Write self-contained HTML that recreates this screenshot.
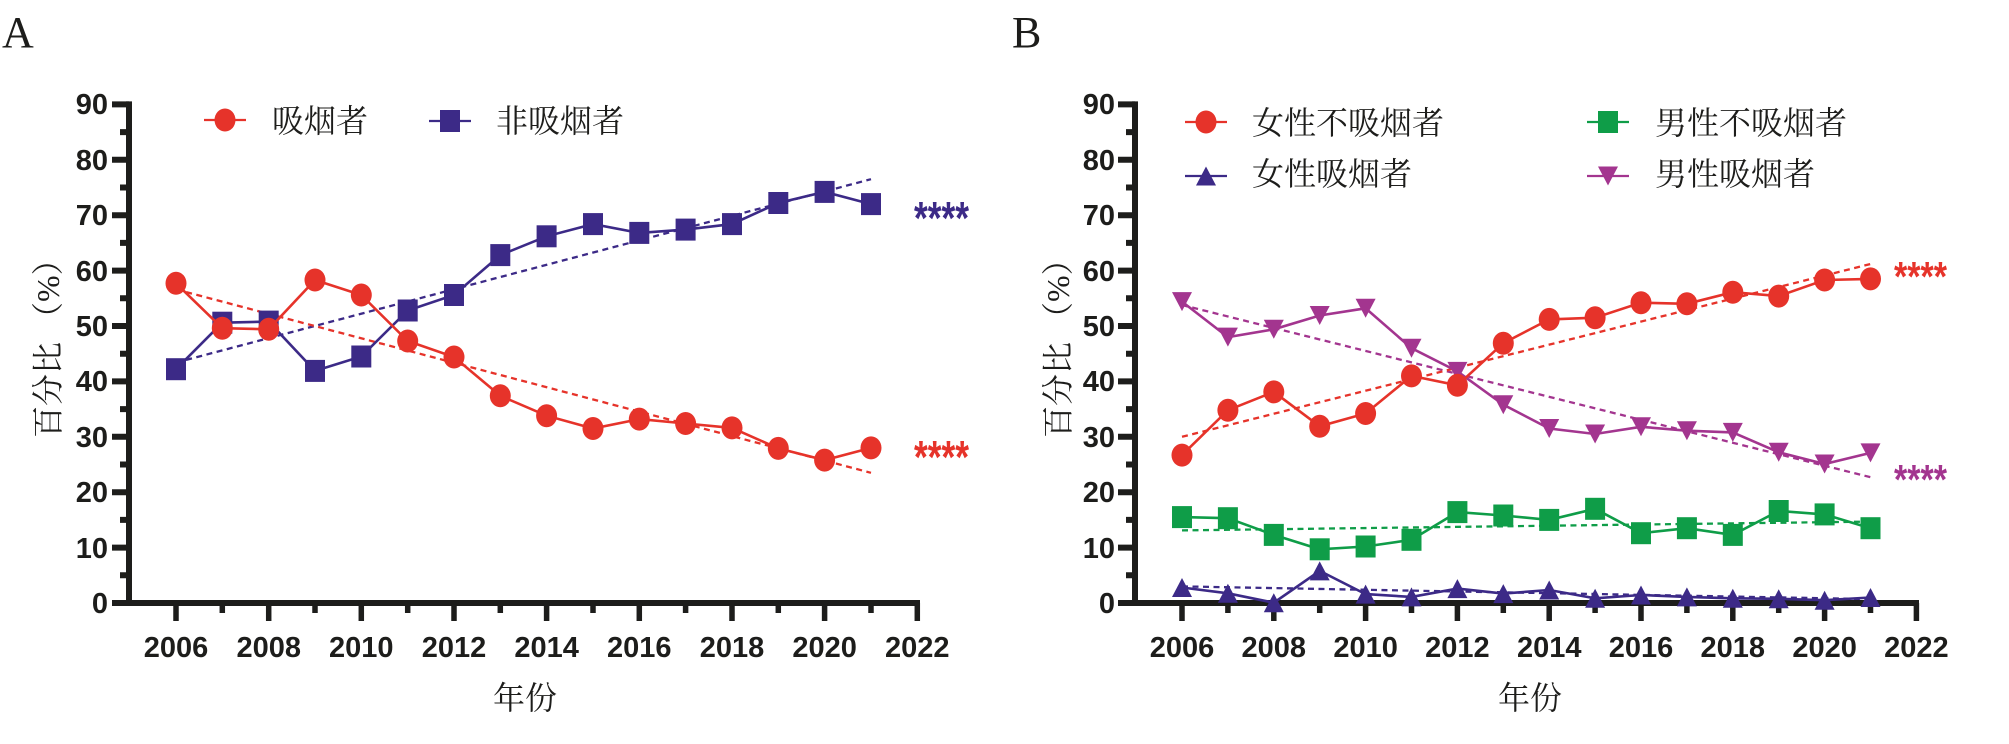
<!DOCTYPE html>
<html><head><meta charset="utf-8"><style>
html,body{margin:0;padding:0;background:#fff;}
svg{display:block;}
.tk{font-family:"Liberation Sans",Arial,sans-serif;font-weight:bold;font-size:29px;fill:#1d1d1b;}
.cj{font-family:"Liberation Serif","Noto Serif CJK SC",serif;font-size:32px;fill:#1d1d1b;}
.pl{font-family:"Liberation Serif",serif;font-size:44px;fill:#1d1d1b;}
.st{font-family:"Liberation Sans",sans-serif;font-weight:bold;}
</style></head><body>
<svg width="2009" height="744" viewBox="0 0 2009 744" xmlns="http://www.w3.org/2000/svg">
<defs>
<ellipse id="c" cx="0" cy="0" rx="10.5" ry="11.5"/>
<rect id="s" x="-10" y="-11" width="20" height="22"/>
<polygon id="tu" points="0,-9.5 -10,9.5 10,9.5"/>
<polygon id="td" points="-10,-9.5 10,-9.5 0,9.5"/>
</defs>
<rect width="2009" height="744" fill="#fff"/>

<!-- Panel labels -->
<text class="pl" x="2" y="47">A</text>
<text class="pl" x="1012" y="47">B</text>

<!-- ===== PANEL A AXES ===== -->
<g stroke="#1d1d1b" fill="none">
<path d="M129 101.4V606 M112 603H920" stroke-width="6"/>
<path d="M112 104.4H129 M112 159.8H129 M112 215.2H129 M112 270.6H129 M112 326H129 M112 381.4H129 M112 436.8H129 M112 492.2H129 M112 547.6H129" stroke-width="6"/>
<path d="M120 132.1H129 M120 187.5H129 M120 242.9H129 M120 298.3H129 M120 353.7H129 M120 409.1H129 M120 464.5H129 M120 519.9H129 M120 575.3H129" stroke-width="6"/>
<path d="M176 603V621 M268.7 603V621 M361.3 603V621 M454 603V621 M546.6 603V621 M639.3 603V621 M732 603V621 M824.6 603V621 M917.3 603V621" stroke-width="5.5"/>
<path d="M222.3 603V613 M315 603V613 M407.7 603V613 M500.3 603V613 M593 603V613 M685.6 603V613 M778.3 603V613 M871 603V613" stroke-width="5.5"/>
</g>
<g class="tk" text-anchor="end">
<text x="108" y="114">90</text><text x="108" y="170">80</text><text x="108" y="225">70</text><text x="108" y="281">60</text><text x="108" y="336">50</text><text x="108" y="391">40</text><text x="108" y="447">30</text><text x="108" y="502">20</text><text x="108" y="558">10</text><text x="108" y="613">0</text>
</g>
<g class="tk" text-anchor="middle">
<text x="176" y="657">2006</text><text x="268.7" y="657">2008</text><text x="361.3" y="657">2010</text><text x="454" y="657">2012</text><text x="546.6" y="657">2014</text><text x="639.3" y="657">2016</text><text x="732" y="657">2018</text><text x="824.6" y="657">2020</text><text x="917.3" y="657">2022</text>
</g>
<text class="cj" text-anchor="middle" x="525" y="709">年份</text>
<text class="cj" transform="translate(59,438) rotate(-90)" x="0" y="0">百分比 （%）</text>

<!-- Panel A legend -->
<line x1="204" y1="120" x2="246" y2="120" stroke="#E6332A" stroke-width="2.2"/>
<use href="#c" x="225" y="120" fill="#E6332A"/>
<text class="cj" x="272" y="132">吸烟者</text>
<line x1="429" y1="121" x2="471" y2="121" stroke="#3C2A87" stroke-width="2.2"/>
<use href="#s" x="450" y="121" fill="#3C2A87"/>
<text class="cj" x="496" y="132">非吸烟者</text>

<!-- Panel A trends -->
<line x1="176" y1="362.6" x2="871" y2="179.2" stroke="#3C2A87" stroke-width="2.3" stroke-dasharray="6 4.5"/>
<line x1="176" y1="289.4" x2="871" y2="472.8" stroke="#E6332A" stroke-width="2.3" stroke-dasharray="6 4.5"/>

<!-- Panel A nonsmokers -->
<g fill="#3C2A87">
<polyline fill="none" stroke="#3C2A87" stroke-width="2.6" points="176,369.2 222.3,322.7 268.7,321.6 315,370.9 361.3,356.5 407.7,310.5 454,295 500.3,255.1 546.6,236.3 593,224.1 639.3,232.9 685.6,229.6 732,224.1 778.3,203 824.6,191.9 871,204.1"/>
<use href="#s" x="176" y="369.2"/><use href="#s" x="222.3" y="322.7"/><use href="#s" x="268.7" y="321.6"/><use href="#s" x="315" y="370.9"/><use href="#s" x="361.3" y="356.5"/><use href="#s" x="407.7" y="310.5"/><use href="#s" x="454" y="295"/><use href="#s" x="500.3" y="255.1"/><use href="#s" x="546.6" y="236.3"/><use href="#s" x="593" y="224.1"/><use href="#s" x="639.3" y="232.9"/><use href="#s" x="685.6" y="229.6"/><use href="#s" x="732" y="224.1"/><use href="#s" x="778.3" y="203"/><use href="#s" x="824.6" y="191.9"/><use href="#s" x="871" y="204.1"/>
</g>
<!-- Panel A smokers -->
<g fill="#E6332A">
<polyline fill="none" stroke="#E6332A" stroke-width="2.6" points="176,283.3 222.3,328.2 268.7,329.3 315,280 361.3,295 407.7,341 454,357 500.3,395.8 546.6,415.7 593,428.5 639.3,419.1 685.6,423.5 732,427.9 778.3,448.4 824.6,460.1 871,447.9"/>
<use href="#c" x="176" y="283.3"/><use href="#c" x="222.3" y="328.2"/><use href="#c" x="268.7" y="329.3"/><use href="#c" x="315" y="280"/><use href="#c" x="361.3" y="295"/><use href="#c" x="407.7" y="341"/><use href="#c" x="454" y="357"/><use href="#c" x="500.3" y="395.8"/><use href="#c" x="546.6" y="415.7"/><use href="#c" x="593" y="428.5"/><use href="#c" x="639.3" y="419.1"/><use href="#c" x="685.6" y="423.5"/><use href="#c" x="732" y="427.9"/><use href="#c" x="778.3" y="448.4"/><use href="#c" x="824.6" y="460.1"/><use href="#c" x="871" y="447.9"/>
</g>
<text class="st" x="914" y="234" font-size="46" fill="#3C2A87" textLength="55" lengthAdjust="spacingAndGlyphs">****</text>
<text class="st" x="914" y="473" font-size="46" fill="#E6332A" textLength="55" lengthAdjust="spacingAndGlyphs">****</text>

<!-- ===== PANEL B AXES ===== -->
<g stroke="#1d1d1b" fill="none">
<path d="M1135 101.4V606 M1118 603H1919" stroke-width="6"/>
<path d="M1118 104.4H1135 M1118 159.8H1135 M1118 215.2H1135 M1118 270.6H1135 M1118 326H1135 M1118 381.4H1135 M1118 436.8H1135 M1118 492.2H1135 M1118 547.6H1135" stroke-width="6"/>
<path d="M1126 132.1H1135 M1126 187.5H1135 M1126 242.9H1135 M1126 298.3H1135 M1126 353.7H1135 M1126 409.1H1135 M1126 464.5H1135 M1126 519.9H1135 M1126 575.3H1135" stroke-width="6"/>
<path d="M1182 603V621 M1273.8 603V621 M1365.6 603V621 M1457.4 603V621 M1549.2 603V621 M1641 603V621 M1732.8 603V621 M1824.6 603V621 M1916.4 603V621" stroke-width="5.5"/>
<path d="M1227.9 603V613 M1319.7 603V613 M1411.5 603V613 M1503.3 603V613 M1595.1 603V613 M1686.9 603V613 M1778.7 603V613 M1870.5 603V613" stroke-width="5.5"/>
</g>
<g class="tk" text-anchor="end">
<text x="1115" y="114">90</text><text x="1115" y="170">80</text><text x="1115" y="225">70</text><text x="1115" y="281">60</text><text x="1115" y="336">50</text><text x="1115" y="391">40</text><text x="1115" y="447">30</text><text x="1115" y="502">20</text><text x="1115" y="558">10</text><text x="1115" y="613">0</text>
</g>
<g class="tk" text-anchor="middle">
<text x="1182" y="657">2006</text><text x="1273.8" y="657">2008</text><text x="1365.6" y="657">2010</text><text x="1457.4" y="657">2012</text><text x="1549.2" y="657">2014</text><text x="1641" y="657">2016</text><text x="1732.8" y="657">2018</text><text x="1824.6" y="657">2020</text><text x="1916.4" y="657">2022</text>
</g>
<text class="cj" text-anchor="middle" x="1530" y="709">年份</text>
<text class="cj" transform="translate(1069,438) rotate(-90)" x="0" y="0">百分比 （%）</text>

<!-- Panel B legend -->
<line x1="1185" y1="122" x2="1227" y2="122" stroke="#E6332A" stroke-width="2.2"/>
<use href="#c" x="1206" y="122" fill="#E6332A"/>
<text class="cj" x="1252" y="134">女性不吸烟者</text>
<line x1="1185" y1="176" x2="1227" y2="176" stroke="#3C2A87" stroke-width="2.2"/>
<use href="#tu" x="1206" y="176" fill="#3C2A87"/>
<text class="cj" x="1252" y="185">女性吸烟者</text>
<line x1="1587" y1="122" x2="1629" y2="122" stroke="#0F9D48" stroke-width="2.2"/>
<use href="#s" x="1608" y="122" fill="#0F9D48"/>
<text class="cj" x="1655" y="134">男性不吸烟者</text>
<line x1="1587" y1="176" x2="1629" y2="176" stroke="#A3358F" stroke-width="2.2"/>
<use href="#td" x="1608" y="176" fill="#A3358F"/>
<text class="cj" x="1655" y="185">男性吸烟者</text>

<!-- Panel B trends -->
<g stroke-width="2.3" stroke-dasharray="6 4.5">
<line x1="1182" y1="530.4" x2="1870.5" y2="521.6" stroke="#0F9D48"/>
<line x1="1182" y1="586.4" x2="1870.5" y2="599.1" stroke="#3C2A87"/>
<line x1="1182" y1="305" x2="1870.5" y2="477.2" stroke="#A3358F"/>
<line x1="1182" y1="436.8" x2="1870.5" y2="264" stroke="#E6332A"/>
</g>

<!-- Male nonsmokers (green) -->
<g fill="#0F9D48">
<polyline fill="none" stroke="#0F9D48" stroke-width="2.6" points="1182,517.1 1227.9,518.2 1273.8,534.9 1319.7,549.3 1365.6,546.5 1411.5,539.8 1457.4,512.1 1503.3,515.5 1549.2,519.9 1595.1,508.8 1641,533.2 1686.9,528.2 1732.8,534.9 1778.7,511 1824.6,514.4 1870.5,528.2"/>
<use href="#s" x="1182" y="517.1"/><use href="#s" x="1227.9" y="518.2"/><use href="#s" x="1273.8" y="534.9"/><use href="#s" x="1319.7" y="549.3"/><use href="#s" x="1365.6" y="546.5"/><use href="#s" x="1411.5" y="539.8"/><use href="#s" x="1457.4" y="512.1"/><use href="#s" x="1503.3" y="515.5"/><use href="#s" x="1549.2" y="519.9"/><use href="#s" x="1595.1" y="508.8"/><use href="#s" x="1641" y="533.2"/><use href="#s" x="1686.9" y="528.2"/><use href="#s" x="1732.8" y="534.9"/><use href="#s" x="1778.7" y="511"/><use href="#s" x="1824.6" y="514.4"/><use href="#s" x="1870.5" y="528.2"/>
</g>
<!-- Female smokers (indigo) -->
<g fill="#3C2A87">
<polyline fill="none" stroke="#3C2A87" stroke-width="2.6" points="1182,587.5 1227.9,593.3 1273.8,602.7 1319.7,570.9 1365.6,594.1 1411.5,596.9 1457.4,588.6 1503.3,593.6 1549.2,590 1595.1,598.3 1641,595 1686.9,596.9 1732.8,598.3 1778.7,598.8 1824.6,600.2 1870.5,597.5"/>
<use href="#tu" x="1182" y="587.5"/><use href="#tu" x="1227.9" y="593.3"/><use href="#tu" x="1273.8" y="602.7"/><use href="#tu" x="1319.7" y="570.9"/><use href="#tu" x="1365.6" y="594.1"/><use href="#tu" x="1411.5" y="596.9"/><use href="#tu" x="1457.4" y="588.6"/><use href="#tu" x="1503.3" y="593.6"/><use href="#tu" x="1549.2" y="590"/><use href="#tu" x="1595.1" y="598.3"/><use href="#tu" x="1641" y="595"/><use href="#tu" x="1686.9" y="596.9"/><use href="#tu" x="1732.8" y="598.3"/><use href="#tu" x="1778.7" y="598.8"/><use href="#tu" x="1824.6" y="600.2"/><use href="#tu" x="1870.5" y="597.5"/>
</g>
<!-- Male smokers (magenta) -->
<g fill="#A3358F">
<polyline fill="none" stroke="#A3358F" stroke-width="2.6" points="1182,301.6 1227.9,337.1 1273.8,329.3 1319.7,315.5 1365.6,308.3 1411.5,348.2 1457.4,371.4 1503.3,404.7 1549.2,428.5 1595.1,434 1641,426.8 1686.9,430.7 1732.8,432.4 1778.7,452.3 1824.6,464 1870.5,452.9"/>
<use href="#td" x="1182" y="301.6"/><use href="#td" x="1227.9" y="337.1"/><use href="#td" x="1273.8" y="329.3"/><use href="#td" x="1319.7" y="315.5"/><use href="#td" x="1365.6" y="308.3"/><use href="#td" x="1411.5" y="348.2"/><use href="#td" x="1457.4" y="371.4"/><use href="#td" x="1503.3" y="404.7"/><use href="#td" x="1549.2" y="428.5"/><use href="#td" x="1595.1" y="434"/><use href="#td" x="1641" y="426.8"/><use href="#td" x="1686.9" y="430.7"/><use href="#td" x="1732.8" y="432.4"/><use href="#td" x="1778.7" y="452.3"/><use href="#td" x="1824.6" y="464"/><use href="#td" x="1870.5" y="452.9"/>
</g>
<!-- Female nonsmokers (red) -->
<g fill="#E6332A">
<polyline fill="none" stroke="#E6332A" stroke-width="2.6" points="1182,455.1 1227.9,410.2 1273.8,391.9 1319.7,426.3 1365.6,413.5 1411.5,375.9 1457.4,385.3 1503.3,343.2 1549.2,319.4 1595.1,317.7 1641,302.7 1686.9,303.8 1732.8,292.2 1778.7,296.1 1824.6,280 1870.5,278.9"/>
<use href="#c" x="1182" y="455.1"/><use href="#c" x="1227.9" y="410.2"/><use href="#c" x="1273.8" y="391.9"/><use href="#c" x="1319.7" y="426.3"/><use href="#c" x="1365.6" y="413.5"/><use href="#c" x="1411.5" y="375.9"/><use href="#c" x="1457.4" y="385.3"/><use href="#c" x="1503.3" y="343.2"/><use href="#c" x="1549.2" y="319.4"/><use href="#c" x="1595.1" y="317.7"/><use href="#c" x="1641" y="302.7"/><use href="#c" x="1686.9" y="303.8"/><use href="#c" x="1732.8" y="292.2"/><use href="#c" x="1778.7" y="296.1"/><use href="#c" x="1824.6" y="280"/><use href="#c" x="1870.5" y="278.9"/>
</g>
<text class="st" x="1894" y="291" font-size="42" fill="#E6332A" textLength="53" lengthAdjust="spacingAndGlyphs">****</text>
<text class="st" x="1894" y="494" font-size="42" fill="#A3358F" textLength="53" lengthAdjust="spacingAndGlyphs">****</text>
</svg>
</body></html>
